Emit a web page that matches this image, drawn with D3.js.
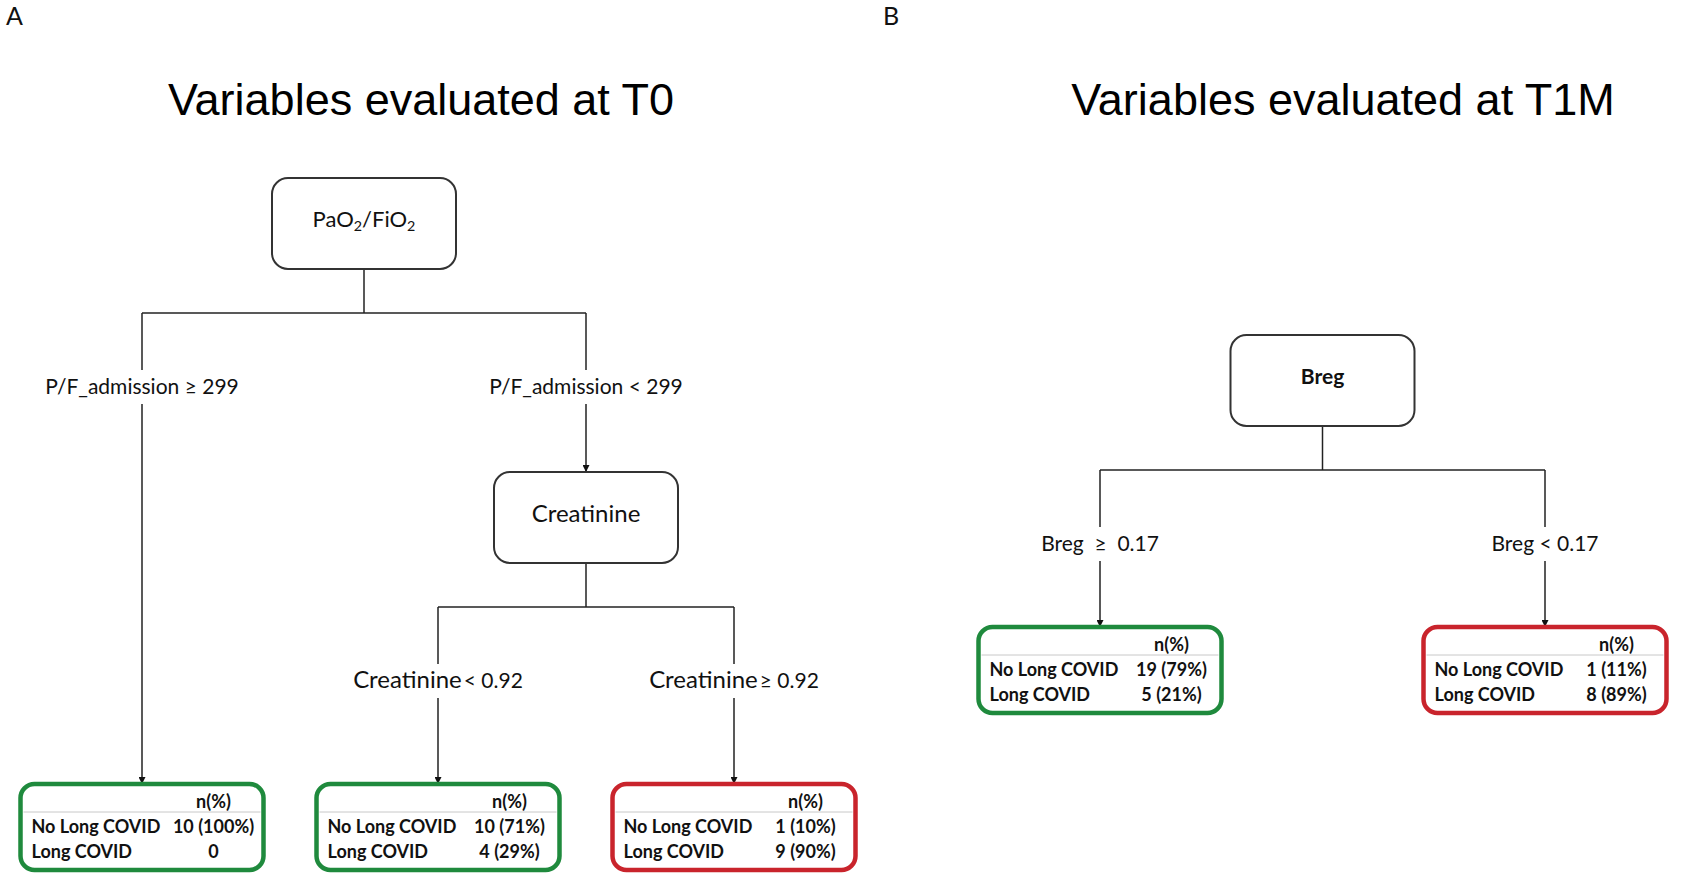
<!DOCTYPE html>
<html>
<head>
<meta charset="utf-8">
<script src="https://cdn.jsdelivr.net/npm/d3@7"></script>
<style>
  body { margin: 0; background: #fff; }
  svg { display: block; }
</style>
</head>
<body>
<svg id="chart" width="1689" height="893"></svg>
<script>
// panel headings
const panelLetters = ["A", "B"];
const panelTitles = ["Variables evaluated at T0", "Variables evaluated at T1M"];

// terminal node table
const countHeader = "n(%)";
const outcomeRows = ["No Long COVID", "Long COVID"];

// terminal nodes, left to right over both panels
const leafNoLong = [10, 10, 1, 19, 1];
const leafNoLongPct = [100, 71, 10, 79, 11];
const leafLong = [0, 4, 9, 5, 8];
const leafLongPct = [0, 29, 90, 21, 89];
const leafPredicted = ["No Long COVID", "No Long COVID", "Long COVID", "No Long COVID", "Long COVID"];

// split variables and the rule written on each branch
const treeA = {
    name: "PaO2/FiO2",
    children: [
        { rule: ["P/F_admission ≥ 299"], leaf: 0 },
        {
            rule: ["P/F_admission < 299"],
            name: "Creatinine",
            children: [
                { rule: ["Creatinine", "< 0.92"], leaf: 1 },
                { rule: ["Creatinine", "≥ 0.92"], leaf: 2 }
            ]
        }
    ]
};
const treeB = {
    name: "Breg",
    children: [
        { rule: ["Breg  ≥  0.17"], leaf: 3 },
        { rule: ["Breg < 0.17"], leaf: 4 }
    ]
};

// layout of each panel
const panels = [
    { tree: treeA, xRange: [142, 734], yDomain: [0, 0.5, 1], yRange: [178, 472, 784], titleX: 421, letterX: 6 },
    { tree: treeB, xRange: [1100, 1545], yDomain: [0, 1], yRange: [335, 627], titleX: 1343, letterX: 883 }
];
const nodeStyle = {
    "PaO2/FiO2": { size: 22, weight: 400 },
    "Creatinine": { size: 24, weight: 400 },
    "Breg": { size: 21, weight: 700 }
};
const leafColor = { "No Long COVID": "#1f8a3d", "Long COVID": "#c9242c" };

const textFont = "Lato, 'Open Sans', sans-serif";
const boxW = 184, boxH = 91;
const leafW = 243, leafH = 86;

let svg = d3.select("#chart");

svg.append("defs").append("marker")
    .attr("id", "arrow")
    .attr("viewBox", "0 0 10 10")
    .attr("refX", 10)
    .attr("refY", 5)
    .attr("markerWidth", 7)
    .attr("markerHeight", 7)
    .attr("markerUnits", "userSpaceOnUse")
    .attr("orient", "auto")
    .append("path")
    .attr("d", "M0,0L10,5L0,10Z")
    .attr("fill", "#111");

function fmt(n, p) {
    return n === 0 ? "0" : `${n} (${p}%)`;
}

panels.forEach((panel, i) => {
    let g = svg.append("g");

    g.append("text")
        .attr("x", panel.letterX)
        .attr("y", 25)
        .attr("font-family", textFont)
        .attr("font-size", 25)
        .attr("fill", "#111")
        .text(panelLetters[i]);

    g.append("text")
        .attr("x", panel.titleX)
        .attr("y", 115)
        .attr("text-anchor", "middle")
        .attr("font-family", "'Liberation Sans', Arial, sans-serif")
        .attr("font-size", 45)
        .attr("fill", "#000")
        .text(panelTitles[i]);

    let root = d3.hierarchy(panel.tree);
    d3.cluster().separation(() => 1).size([1, 1])(root);

    let xScale = d3.scaleLinear().domain(d3.extent(root.leaves(), d => d.x)).range(panel.xRange);
    let yScale = d3.scaleLinear().domain(panel.yDomain).range(panel.yRange);

    // connectors below each split
    root.descendants().filter(d => d.children).forEach(node => {
        let x = xScale(node.x);
        let bottom = yScale(node.y) + boxH;
        let bar = bottom + 44;
        let xs = node.children.map(c => xScale(c.x));

        g.append("line")
            .attr("x1", x).attr("x2", x)
            .attr("y1", bottom).attr("y2", bar)
            .attr("stroke", "#222").attr("stroke-width", 1.5);
        g.append("line")
            .attr("x1", d3.min(xs)).attr("x2", d3.max(xs))
            .attr("y1", bar).attr("y2", bar)
            .attr("stroke", "#222").attr("stroke-width", 1.5);

        node.children.forEach(child => {
            let cx = xScale(child.x);
            let labelY = bar + 81;
            g.append("line")
                .attr("x1", cx).attr("x2", cx)
                .attr("y1", bar).attr("y2", labelY - 24)
                .attr("stroke", "#222").attr("stroke-width", 1.5);
            g.append("line")
                .attr("x1", cx).attr("x2", cx)
                .attr("y1", labelY + 10).attr("y2", yScale(child.y))
                .attr("stroke", "#222").attr("stroke-width", 1.5)
                .attr("marker-end", "url(#arrow)");

            let rule = child.data.rule;
            let t = g.append("text")
                .attr("x", cx)
                .attr("y", labelY)
                .attr("text-anchor", "middle")
                .attr("font-family", textFont)
                .attr("font-size", 21)
                .attr("fill", "#111")
                .style("white-space", "pre");
            if (rule.length > 1) {
                t.append("tspan").attr("font-size", 24).text(rule[0]);
                t.append("tspan").attr("dx", 2).text(rule[1]);
            } else {
                t.text(rule[0]);
            }
        });
    });

    // split variable boxes
    root.descendants().filter(d => d.children).forEach(node => {
        let x = xScale(node.x);
        let top = yScale(node.y);
        let st = nodeStyle[node.data.name];
        g.append("rect")
            .attr("x", x - boxW / 2).attr("y", top)
            .attr("width", boxW).attr("height", boxH)
            .attr("rx", 16)
            .attr("fill", "#fff")
            .attr("stroke", "#333")
            .attr("stroke-width", 2);
        let t = g.append("text")
            .attr("x", x)
            .attr("y", top + boxH / 2 + st.size * 0.36)
            .attr("text-anchor", "middle")
            .attr("font-family", textFont)
            .attr("font-size", st.size)
            .attr("font-weight", st.weight)
            .attr("fill", "#111");
        // digits after an element symbol are subscripts
        node.data.name.split(/(\d)/).filter(s => s).forEach(part => {
            if (/\d/.test(part)) {
                t.append("tspan").attr("font-size", st.size * 0.65).attr("dy", 4).text(part);
            } else {
                t.append("tspan").attr("dy", t.selectAll("tspan").size() ? -4 : 0).text(part);
            }
        });
    });

    // terminal tables
    root.leaves().forEach(leaf => {
        let k = leaf.data.leaf;
        let x = xScale(leaf.x) - leafW / 2;
        let top = yScale(leaf.y);
        let lg = g.append("g").attr("font-family", textFont).attr("font-weight", 700).attr("fill", "#111");

        lg.append("rect")
            .attr("x", x).attr("y", top)
            .attr("width", leafW).attr("height", leafH)
            .attr("rx", 14)
            .attr("fill", "#fff")
            .attr("stroke", leafColor[leafPredicted[k]])
            .attr("stroke-width", 4.5);
        lg.append("line")
            .attr("x1", x + 3).attr("x2", x + leafW - 3)
            .attr("y1", top + 28).attr("y2", top + 28)
            .attr("stroke", "#c8c8c8").attr("stroke-width", 1);
        lg.append("text")
            .attr("x", x + 193).attr("y", top + 24)
            .attr("text-anchor", "middle")
            .attr("font-size", 18)
            .text(countHeader);

        let values = [fmt(leafNoLong[k], leafNoLongPct[k]), fmt(leafLong[k], leafLongPct[k])];
        outcomeRows.forEach((row, r) => {
            lg.append("text")
                .attr("x", x + 11).attr("y", top + 49 + r * 25)
                .attr("font-size", 18)
                .text(row);
            lg.append("text")
                .attr("x", x + 193).attr("y", top + 49 + r * 25)
                .attr("text-anchor", "middle")
                .attr("font-size", 18)
                .text(values[r]);
        });
    });
});
</script>
</body>
</html>
